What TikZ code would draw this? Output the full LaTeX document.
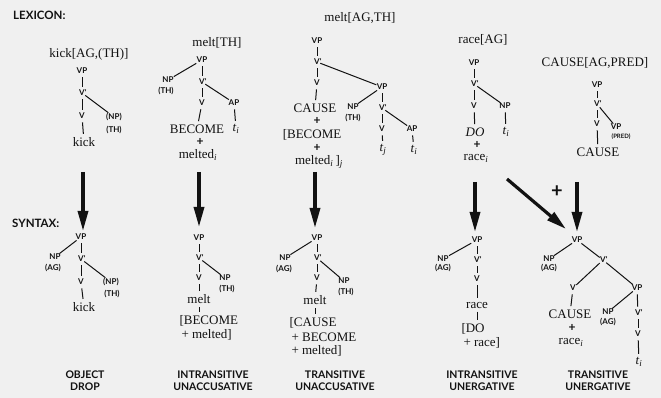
\documentclass[tikz,border=0pt]{standalone}
\usepackage{fontspec}
\setmainfont{Liberation Serif}
\newfontfamily\lab{Lato}
\usetikzlibrary{arrows.meta}
\definecolor{ink}{gray}{0.07}
\definecolor{paper}{gray}{0.94}
\tikzset{
 cat/.style={font=\lab\bfseries\fontsize{8}{8}\selectfont, text=ink, inner sep=0.3pt},
 wd/.style={font=\fontsize{13}{13}\selectfont, text=ink, inner sep=0.3pt},
 pl/.style={font=\lab\bfseries\fontsize{12}{12}\selectfont, text=ink, inner sep=0pt},
 hd/.style={font=\lab\bfseries\fontsize{11.5}{11.5}\selectfont, text=ink, inner sep=0pt, anchor=west},
 ttl/.style={font=\lab\bfseries\fontsize{10.5}{12}\selectfont, text=ink, align=center},
 ln/.style={draw=ink, line width=1pt},
 bar/.style={ln, shorten >=3pt, shorten <=3pt},
 big/.style={draw=ink, line width=3.2pt, -{Triangle[length=20pt,width=10pt]}},
}
\newcommand{\tr}[1]{\textit{t}\textsubscript{\textit{#1}}}
\begin{document}
\begin{tikzpicture}[x=1pt,y=-1pt]
\fill[paper] (0,0) rectangle (661,398);
\useasboundingbox (0,0) rectangle (661,398);
% ---------- column 1: lexicon
\node[hd] (lex) at (13,15) {LEXICON:};
\node[wd] (k0) at (89,54) {kick[AG,(TH)]};
\node[cat] (k1) at (82,71) {VP};
\node[cat] (k2) at (82,93) {V\rlap{'}};
\node[cat] (k3) at (82,116) {V};
\node[wd] (k4) at (84,142) {kick};
\node[cat] (k5) at (114,117) {(NP)};
\node[cat] (k6) at (114,130) {(TH)};
\draw[bar] (k1)--(k2); \draw[bar] (k2)--(k3); \draw[bar] (k3)--(k4);
\draw[ln] (k2)--(k5);
% column 1: syntax
\node[hd] (syn) at (12,223) {SYNTAX:};
\node[cat] (a1) at (81,237) {VP};
\node[cat] (a2) at (55,257) {NP};
\node[cat] (a3) at (53,268) {(AG)};
\node[cat] (a4) at (81,259) {V\rlap{'}};
\node[cat] (a5) at (81,282) {V};
\node[wd] (a6) at (84,307) {kick};
\node[cat] (a7) at (111,282) {(NP)};
\node[cat] (a8) at (112,294) {(TH)};
\draw[ln] (a1)--(a2); \draw[bar] (a1)--(a4); \draw[bar] (a4)--(a5);
\draw[bar] (a5)--(a6); \draw[ln] (a4)--(a7);
\node[ttl] (t1) at (85,381) {OBJECT\\DROP};
\coordinate (s1) at (83,172); \coordinate (e1) at (83,231);
\draw[big] (s1)--(e1);
% ---------- column 2: lexicon
\node[wd] (m0) at (217,43) {melt[TH]};
\node[cat] (m1) at (202,60) {VP};
\node[cat] (m2) at (168,80) {NP};
\node[cat] (m3) at (166,91) {(TH)};
\node[cat] (m4) at (202,82) {V\rlap{'}};
\node[cat] (m5) at (202,103) {V};
\node[cat] (m6) at (234,103) {AP};
\node[wd] (m7) at (197,129) {BECOME};
\node[wd] (m8) at (236,129) {\tr{i}};
\node[pl] (m9) at (200,142) {+};
\node[wd] (m10) at (198,155) {melted\textsubscript{\textit{i}}};
\draw[ln] (m1)--(m2); \draw[bar] (m1)--(m4); \draw[bar] (m4)--(m5);
\draw[bar] (m5)--(m7); \draw[ln] (m4)--(m6); \draw[bar] (m6)--(m8);
% column 2: syntax
\node[cat] (b1) at (199,238) {VP};
\node[cat] (b2) at (199,258) {V\rlap{'}};
\node[cat] (b3) at (199,278) {V};
\node[cat] (b4) at (225,278) {NP};
\node[cat] (b5) at (227,289) {(TH)};
\node[wd] (b6) at (199,299) {melt};
\node[wd,anchor=west] (b7) at (179,321) {[BECOME};
\node[wd,anchor=west] (b8) at (181,335) {+ melted]};
\draw[bar] (b1)--(b2); \draw[bar] (b2)--(b3); \draw[bar] (b3)--(b6);
\draw[bar] (b6)--(b6 |- b7.north); \draw[ln] (b2)--(b4);
\node[ttl] (t2) at (213,381) {INTRANSITIVE\\UNACCUSATIVE};
\coordinate (s2) at (199,172); \coordinate (e2) at (199,227);
\draw[big] (s2)--(e2);
% ---------- column 3: lexicon
\node[wd] (c0) at (360,18) {melt[AG,TH]};
\node[cat] (c1) at (317,41) {VP};
\node[cat] (c2) at (317,62) {V\rlap{'}};
\node[cat] (c3) at (317,83) {V};
\node[wd] (c4) at (315,108) {CAUSE};
\node[pl] (c5) at (317,121) {+};
\node[wd] (c6) at (312,135) {[BECOME};
\node[pl] (c7) at (317,148) {+};
\node[wd] (c8) at (319,162) {melted\textsubscript{\textit{i}}\,]\textsubscript{\textit{j}}};
\node[cat] (c9) at (382,87) {VP};
\node[cat] (c10) at (353,107) {NP};
\node[cat] (c11) at (353,118) {(TH)};
\node[cat] (c12) at (382,108) {V\rlap{'}};
\node[cat] (c13) at (382,129) {V};
\node[wd] (c14) at (383,150) {\tr{j}};
\node[cat] (c15) at (412,129) {AP};
\node[wd] (c16) at (414,150) {\tr{i}};
\draw[bar] (c1)--(c2); \draw[bar] (c2)--(c3); \draw[bar] (c3)--(c4);
\draw[ln] (c2)--(c9); \draw[ln] (c9)--(c10); \draw[bar] (c9)--(c12);
\draw[bar] (c12)--(c13); \draw[bar] (c13)--(c14); \draw[ln] (c12)--(c15);
\draw[bar] (c15)--(c16);
% column 3: syntax
\node[cat] (d1) at (317,238) {VP};
\node[cat] (d2) at (285,258) {NP};
\node[cat] (d3) at (284,269) {(AG)};
\node[cat] (d4) at (317,258) {V\rlap{'}};
\node[cat] (d5) at (317,278) {V};
\node[cat] (d6) at (344,281) {NP};
\node[cat] (d7) at (346,292) {(TH)};
\node[wd] (d8) at (315,300) {melt};
\node[wd,anchor=west] (d9) at (289,323) {[CAUSE};
\node[wd,anchor=west] (d10) at (291,337) {+ BECOME};
\node[wd,anchor=west] (d11) at (291,351) {+ melted]};
\draw[ln] (d1)--(d2); \draw[bar] (d1)--(d4); \draw[bar] (d4)--(d5);
\draw[bar] (d5)--(d8); \draw[bar] (d8)--(d8 |- d9.north); \draw[ln] (d4)--(d6);
\node[ttl] (t3) at (335,381) {TRANSITIVE\\UNACCUSATIVE};
\coordinate (s3) at (315,172); \coordinate (e3) at (315,228);
\draw[big] (s3)--(e3);
% ---------- column 4: lexicon
\node[wd] (r0) at (483,40) {race[AG]};
\node[cat] (r1) at (474,63) {VP};
\node[cat] (r2) at (474,84) {V\rlap{'}};
\node[cat] (r3) at (474,106) {V};
\node[cat] (r4) at (505,106) {NP};
\node[wd] (r5) at (475,132) {\textit{DO}};
\node[wd] (r6) at (506,132) {\tr{i}};
\node[pl] (r7) at (477,145) {+};
\node[wd] (r8) at (476,158) {race\textsubscript{\textit{i}}};
\draw[bar] (r1)--(r2); \draw[bar] (r2)--(r3); \draw[bar] (r3)--(r5);
\draw[ln] (r2)--(r4); \draw[bar] (r4)--(r6);
% column 4: syntax
\node[cat] (q1) at (477,240) {VP};
\node[cat] (q2) at (443,259) {NP};
\node[cat] (q3) at (443,268) {(AG)};
\node[cat] (q4) at (477,260) {V\rlap{'}};
\node[cat] (q5) at (477,279) {V};
\node[wd] (q6) at (477,305) {race};
\node[wd,anchor=west] (q7) at (461,329) {[DO};
\node[wd,anchor=west] (q8) at (463,343) {+ race]};
\draw[ln] (q1)--(q2); \draw[bar] (q1)--(q4); \draw[bar] (q4)--(q5);
\draw[bar] (q5)--(q6); \draw[bar] (q6)--(q6 |- q7.north);
\node[ttl] (t4) at (482,381) {INTRANSITIVE\\UNERGATIVE};
\coordinate (s4) at (475,182); \coordinate (e4) at (475,232);
\draw[big] (s4)--(e4);
% ---------- column 5: lexicon
\node[wd] (p0) at (595,63) {CAUSE[AG,PRED]};
\node[cat] (p1) at (597,85) {VP};
\node[cat] (p2) at (597,104) {V\rlap{'}};
\node[cat] (p3) at (597,124) {V};
\node[cat] (p4) at (616,127) {VP};
\node[cat,font=\lab\bfseries\fontsize{6}{6}\selectfont] (p5) at (621,137) {(PRED)};
\node[wd] (p6) at (598,152) {CAUSE};
\draw[bar] (p1)--(p2); \draw[bar] (p2)--(p3); \draw[bar] (p3)--(p6);
\draw[ln] (p2)--(p4);
% column 5: syntax
\node[cat] (u1) at (577,240) {VP};
\node[cat] (u2) at (549,259) {NP};
\node[cat] (u3) at (549,268) {(AG)};
\node[cat] (u4) at (603,260) {V\rlap{'}};
\node[cat] (u5) at (573,288) {V};
\node[cat] (u6) at (637,288) {VP};
\node[wd] (u7) at (570,314) {CAUSE};
\node[pl] (u8) at (572,328) {+};
\node[wd] (u9) at (571,342) {race\textsubscript{\textit{i}}};
\node[cat] (u10) at (608,312) {NP};
\node[cat] (u11) at (608,322) {(AG)};
\node[cat] (u12) at (638,313) {V\rlap{'}};
\node[cat] (u13) at (638,334) {V};
\node[wd] (u14) at (639,362) {\tr{i}};
\draw[ln] (u1)--(u2); \draw[ln] (u1)--(u4); \draw[ln] (u4)--(u5);
\draw[ln] (u4)--(u6); \draw[bar] (u5)--(u7); \draw[ln] (u6)--(u10);
\draw[bar] (u6)--(u12); \draw[bar] (u12)--(u13); \draw[bar] (u13)--(u14);
\node[ttl] (t5) at (598,381) {TRANSITIVE\\UNERGATIVE};
\coordinate (s5) at (577,182); \coordinate (e5) at (577,232);
\draw[big] (s5)--(e5);
\coordinate (s6) at (507,179); \coordinate (e6) at (566,229);
\draw[big] (s6)--(e6);
\node[font=\lab\bfseries\fontsize{20}{20}\selectfont, text=ink] (plus) at (557,192) {+};
\end{tikzpicture}
\end{document}
